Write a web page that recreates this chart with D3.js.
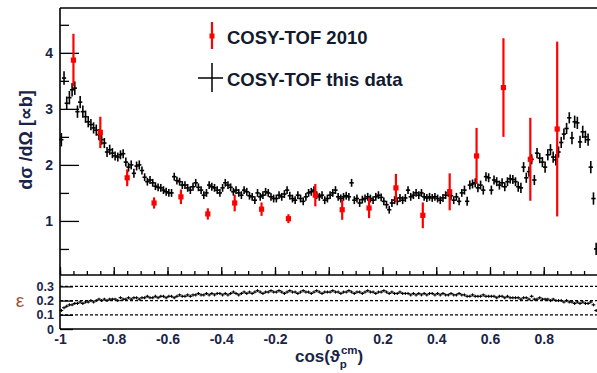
<!DOCTYPE html>
<html><head><meta charset="utf-8">
<script src="https://cdn.jsdelivr.net/npm/d3@7/dist/d3.min.js"></script>
<style>body{margin:0;background:#fff}svg{display:block}text{font-family:"Liberation Sans",Arial,sans-serif}</style>
</head><body><svg id="c" width="597" height="373"></svg>
<script>
// ---- data ----
const binStart = -1, binWidth = 0.01;
const thisData = [2.45,3.55,3.1,3.2,3.34,3.37,2.95,3.12,2.95,2.86,
2.77,2.72,2.66,2.62,2.54,2.45,2.39,2.23,2.27,2.21,
2.16,2.14,2.18,2.2,2.05,1.96,2.0,1.85,1.98,2.0,
1.9,1.78,1.7,1.73,1.68,1.62,1.6,1.59,1.55,1.52,
1.5,1.5,1.79,1.72,1.7,1.64,1.64,1.59,1.55,1.61,
1.68,1.6,1.55,1.46,1.5,1.64,1.61,1.59,1.55,1.5,
1.59,1.68,1.64,1.6,1.52,1.55,1.5,1.46,1.55,1.52,
1.45,1.43,1.37,1.5,1.43,1.46,1.52,1.5,1.43,1.4,
1.4,1.46,1.43,1.48,1.55,1.45,1.4,1.37,1.46,1.4,
1.35,1.43,1.5,1.52,1.55,1.46,1.43,1.46,1.37,1.4,
1.46,1.5,1.55,1.43,1.4,1.43,1.45,1.43,1.68,1.37,
1.4,1.32,1.38,1.4,1.43,1.4,1.37,1.43,1.46,1.42,
1.35,1.29,1.2,1.32,1.37,1.35,1.41,1.37,1.41,1.55,
1.43,1.46,1.5,1.46,1.5,1.43,1.41,1.43,1.41,1.43,
1.4,1.37,1.41,1.46,1.5,1.45,1.37,1.43,1.35,1.5,
1.55,1.35,1.64,1.66,1.68,1.59,1.64,1.55,1.79,1.77,
1.55,1.73,1.7,1.64,1.68,1.61,1.7,1.75,1.74,1.7,
1.61,1.59,1.96,1.77,1.88,2.1,1.73,2.21,2.12,2.05,
1.96,2.18,2.27,2.14,2.09,2.23,2.4,2.55,2.65,2.84,
2.48,2.77,2.75,2.41,2.59,2.5,2.45,1.96,1.4,0.5];
const thisErr = [0.12,0.12,0.12,0.12,0.12,0.12,0.11,0.11,0.11,0.11,
0.1,0.1,0.1,0.1,0.1,0.09,0.09,0.09,0.09,0.09,
0.08,0.08,0.08,0.08,0.08,0.08,0.08,0.08,0.08,0.08,
0.07,0.07,0.07,0.07,0.07,0.07,0.07,0.07,0.07,0.07,
0.07,0.07,0.07,0.07,0.07,0.07,0.07,0.07,0.07,0.07,
0.07,0.07,0.07,0.07,0.07,0.07,0.07,0.07,0.07,0.07,
0.07,0.07,0.07,0.07,0.07,0.07,0.07,0.07,0.07,0.07,
0.07,0.07,0.07,0.07,0.07,0.07,0.07,0.07,0.07,0.07,
0.07,0.07,0.07,0.07,0.07,0.07,0.07,0.07,0.07,0.07,
0.07,0.07,0.07,0.07,0.07,0.07,0.07,0.07,0.07,0.07,
0.07,0.07,0.07,0.07,0.07,0.07,0.07,0.07,0.07,0.07,
0.07,0.07,0.07,0.07,0.07,0.07,0.07,0.07,0.07,0.07,
0.07,0.07,0.07,0.07,0.07,0.07,0.07,0.07,0.07,0.07,
0.07,0.07,0.07,0.07,0.07,0.07,0.07,0.07,0.07,0.07,
0.07,0.07,0.07,0.07,0.07,0.07,0.07,0.07,0.07,0.07,
0.08,0.08,0.08,0.08,0.08,0.08,0.08,0.08,0.08,0.08,
0.08,0.08,0.08,0.08,0.08,0.08,0.08,0.08,0.08,0.08,
0.09,0.09,0.09,0.09,0.09,0.09,0.09,0.09,0.09,0.09,
0.1,0.1,0.1,0.1,0.1,0.1,0.1,0.1,0.1,0.1,
0.11,0.11,0.11,0.11,0.11,0.11,0.11,0.11,0.11,0.11];
const cosy2010Cos = [-0.95,-0.85,-0.75,-0.65,-0.55,-0.45,-0.35,-0.25,-0.15,-0.05,0.05,0.15,0.25,0.35,0.45,0.55,0.65,0.75,0.85];
const cosy2010Val = [3.87,2.58,1.77,1.32,1.43,1.125,1.32,1.21,1.04,1.46,1.2,1.23,1.59,1.1,1.52,2.16,3.38,2.1,2.64];
const cosy2010Err = [0.47,0.28,0.15,0.1,0.13,0.1,0.15,0.12,0.08,0.2,0.18,0.18,0.25,0.23,0.33,0.5,0.88,0.74,1.56];
const efficiency = [0.13,0.15,0.16,0.17,0.17,0.18,0.18,0.19,0.18,0.19,
0.19,0.20,0.19,0.20,0.21,0.20,0.21,0.20,0.21,0.21,
0.21,0.20,0.22,0.21,0.21,0.22,0.21,0.22,0.22,0.21,
0.22,0.22,0.23,0.22,0.22,0.23,0.22,0.23,0.23,0.22,
0.23,0.23,0.22,0.23,0.24,0.23,0.23,0.24,0.23,0.24,
0.24,0.25,0.24,0.24,0.25,0.24,0.25,0.24,0.25,0.25,
0.24,0.25,0.24,0.25,0.26,0.25,0.24,0.25,0.26,0.25,
0.26,0.25,0.26,0.27,0.26,0.25,0.26,0.26,0.27,0.26,
0.26,0.27,0.26,0.25,0.26,0.27,0.26,0.26,0.25,0.26,
0.27,0.26,0.26,0.25,0.26,0.27,0.26,0.25,0.26,0.26,
0.26,0.27,0.26,0.26,0.25,0.26,0.26,0.27,0.26,0.25,
0.26,0.26,0.25,0.26,0.27,0.26,0.26,0.25,0.26,0.26,
0.27,0.26,0.25,0.26,0.25,0.25,0.26,0.25,0.25,0.25,
0.24,0.25,0.24,0.25,0.24,0.25,0.24,0.25,0.25,0.24,
0.25,0.24,0.25,0.24,0.24,0.25,0.24,0.24,0.25,0.24,
0.24,0.23,0.23,0.24,0.23,0.23,0.23,0.24,0.23,0.23,
0.23,0.23,0.22,0.23,0.23,0.22,0.23,0.22,0.22,0.22,
0.22,0.21,0.22,0.22,0.21,0.23,0.21,0.21,0.22,0.21,
0.21,0.21,0.20,0.21,0.20,0.20,0.20,0.19,0.20,0.19,
0.19,0.18,0.19,0.18,0.19,0.18,0.18,0.19,0.17,0.13];
const xTickLabels = [-1,-0.8,-0.6,-0.4,-0.2,0,0.2,0.4,0.6,0.8];
const yTopTicks = [1,2,3,4];
const yTopMinor = [0.5,1.5,2.5,3.5,4.5];
const yBotTicks = [0,0.1,0.2,0.3];
const yBotLabels = ["0","0.1","0.2","0.3"];
const effLines = [0.1,0.2,0.3];
const legendLabels = ["COSY-TOF 2010","COSY-TOF this data"];

// ---- layout ----
const L = 60, R = 597.5, T = 8, B1 = 275, B2 = 329;
const svg = d3.select("#c");
const x = d3.scaleLinear().domain([-1,1]).range([L,R]);
const yT = d3.scaleLinear().domain([0.035,4.8]).range([B1,T]);
const yB = d3.scaleLinear().domain([0,0.38]).range([B2,B1]);
const lab = "#1a2448";
const binC = i => binStart + binWidth*(i+0.5);

// frames
[T,B1,B2].forEach(yy=>svg.append("line").attr("x1",L).attr("x2",597).attr("y1",yy).attr("y2",yy).attr("stroke","#000").attr("stroke-width",1.6));
svg.append("line").attr("x1",L).attr("x2",L).attr("y1",T).attr("y2",B2).attr("stroke","#000").attr("stroke-width",1.6);

function styleAxis(g, fs){ g.select(".domain").remove(); g.selectAll(".tick line").attr("stroke","#000").attr("stroke-width",1.3);
  g.selectAll("text").attr("fill",lab).attr("font-weight","bold").attr("font-size",fs||14).attr("font-family","Liberation Sans, Arial, sans-serif"); }

// top y axis
svg.append("g").attr("transform",`translate(${L},0)`).call(d3.axisLeft(yT).tickValues(yTopTicks).tickSizeInner(-19).tickSizeOuter(0).tickPadding(7).tickFormat(d3.format("d"))).call(styleAxis);
svg.append("g").attr("transform",`translate(${L},0)`).call(d3.axisLeft(yT).tickValues(yTopMinor).tickSizeInner(-9).tickSizeOuter(0).tickFormat("")).call(styleAxis);
// top x ticks (upward)
svg.append("g").attr("transform",`translate(0,${B1})`).call(d3.axisBottom(x).tickValues(d3.range(-10,11,2).map(d=>d/10)).tickSizeInner(-8).tickSizeOuter(0).tickFormat("")).call(styleAxis);
svg.append("g").attr("transform",`translate(0,${B1})`).call(d3.axisBottom(x).tickValues(d3.range(-20,21,1).map(d=>d/20)).tickSizeInner(-4).tickSizeOuter(0).tickFormat("")).call(styleAxis);
// bottom x axis labels
svg.append("g").attr("transform",`translate(0,${B2})`).call(d3.axisBottom(x).tickValues(xTickLabels).tickSize(0).tickPadding(5).tickFormat(d=>d===0?"0":String(d))).call(g=>styleAxis(g,14));
// bottom y axis: ticks via axis, labels as explicit texts
svg.append("g").attr("transform",`translate(${L},0)`).call(d3.axisLeft(yB).tickValues(yBotTicks).tickSizeInner(-13).tickSizeOuter(0).tickFormat("")).call(styleAxis);
svg.selectAll(".ybl").data(yBotTicks).enter().append("text").attr("class","ybl")
 .attr("x",L-6).attr("y",d=>yB(d)).attr("dy","0.36em").attr("text-anchor","end")
 .attr("font-size",12.5).attr("font-weight","bold").attr("fill",lab).text((d,i)=>yBotLabels[i]);

// dashed efficiency guide lines
svg.selectAll(".dl").data(effLines).enter().append("line").attr("x1",L).attr("x2",597).attr("y1",d=>yB(d)).attr("y2",d=>yB(d))
 .attr("stroke","#000").attr("stroke-width",1.2).attr("stroke-dasharray","3,2");

// black data crosses
const gB = svg.append("g").attr("stroke","#000").attr("stroke-width",1.6);
thisData.forEach((v,i)=>{
  const c = binC(i);
  gB.append("line").attr("x1",x(c-binWidth*0.8)).attr("x2",x(c+binWidth*0.8)).attr("y1",yT(v)).attr("y2",yT(v));
  gB.append("line").attr("x1",x(c)).attr("x2",x(c)).attr("y1",yT(v-thisErr[i])).attr("y2",yT(v+thisErr[i]));
});
// efficiency markers
const gE = svg.append("g").attr("stroke","#000").attr("stroke-width",1.1);
efficiency.forEach((v,i)=>{
  const c = binC(i);
  gE.append("line").attr("x1",x(c-binWidth*0.7)).attr("x2",x(c+binWidth*0.7)).attr("y1",yB(v)).attr("y2",yB(v));
  gE.append("line").attr("x1",x(c)).attr("x2",x(c)).attr("y1",yB(v)-1.5).attr("y2",yB(v)+1.5);
});
// red COSY-TOF 2010
const gR = svg.append("g");
cosy2010Cos.forEach((c,i)=>{
  const v = cosy2010Val[i], e = cosy2010Err[i];
  gR.append("line").attr("x1",x(c)).attr("x2",x(c)).attr("y1",yT(v-e)).attr("y2",yT(v+e)).attr("stroke","#ff0000").attr("stroke-width",2.2);
  gR.append("rect").attr("x",x(c)-2.6).attr("y",yT(v)-2.6).attr("width",5.2).attr("height",5.2).attr("fill","#ff0000");
});

// legend
const lg = svg.append("g");
lg.append("line").attr("x1",212).attr("x2",212).attr("y1",22).attr("y2",49).attr("stroke","#ff0000").attr("stroke-width",2.2);
lg.append("rect").attr("x",209.5).attr("y",33.5).attr("width",5).attr("height",5).attr("fill","#ff0000");
lg.append("line").attr("x1",198).attr("x2",223).attr("y1",78).attr("y2",78).attr("stroke","#000").attr("stroke-width",1.5);
lg.append("line").attr("x1",212).attr("x2",212).attr("y1",63).attr("y2",92).attr("stroke","#000").attr("stroke-width",1.5);
lg.selectAll(".lt").data(legendLabels).enter().append("text").attr("class","lt").attr("x",227).attr("y",(d,i)=>i===0?44:85.5)
 .attr("font-size",18.5).attr("font-weight","bold").attr("fill","#121a2e").text(d=>d);

// axis titles
svg.append("text").attr("transform","translate(32,140) rotate(-90)").attr("text-anchor","middle")
 .attr("font-size",18).attr("font-weight","bold").attr("fill",lab).text("dσ /dΩ [∝b]");
svg.append("text").attr("x",20).attr("y",307).attr("text-anchor","middle").attr("font-size",19).attr("fill","#a0503a").text("ε");
const xt = svg.append("text").attr("x",295).attr("y",362).attr("font-size",17).attr("font-weight","bold").attr("fill",lab);
xt.append("tspan").text("cos(ϑ");
xt.append("tspan").attr("font-size",11.5).attr("dy",6).text("p");
xt.append("tspan").attr("font-size",11.5).attr("dx",-6).attr("dy",-14).text("cm");
xt.append("tspan").attr("dy",8).text(")");
</script></body></html>
